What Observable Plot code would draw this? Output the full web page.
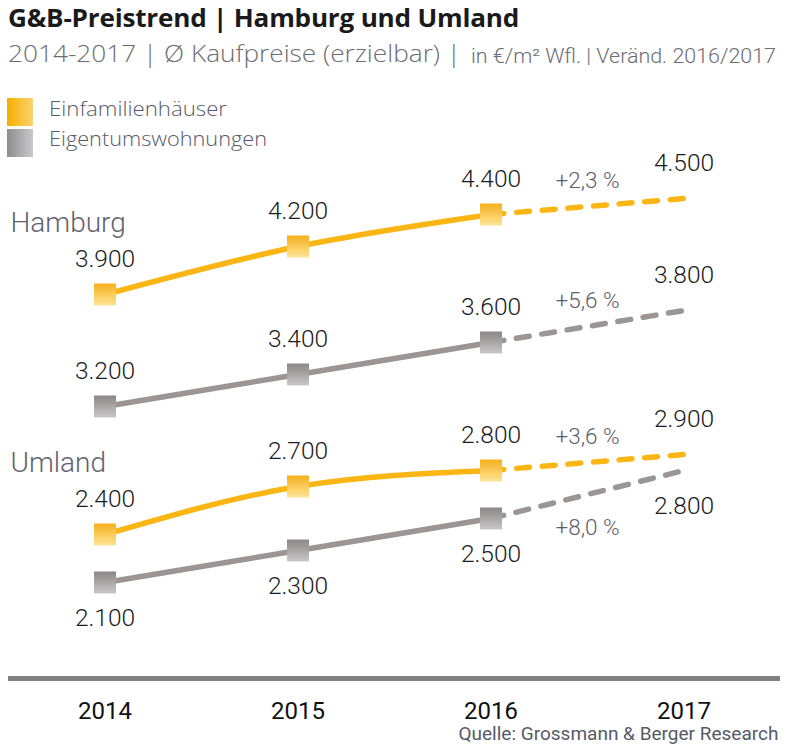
<!DOCTYPE html>
<html>
<head>
<meta charset="utf-8">
<script src="https://cdn.jsdelivr.net/npm/d3@7"></script>
<script src="https://cdn.jsdelivr.net/npm/@observablehq/plot@0.6"></script>
<style>
  body { margin: 0; background: #fff; }
  #wrap { position: relative; width: 790px; height: 754px; overflow: hidden; font-family: Roboto, "Noto Sans", sans-serif; }
  .t { position: absolute; white-space: nowrap; line-height: 1; }
  .sw { position: absolute; left: 7px; width: 26px; height: 28px; }
  .os { font-family: "Open Sans", Roboto, sans-serif; }
</style>
</head>
<body>
<div id="wrap">
  <div class="t os" id="title" style="left:8px;top:5px;font-size:25px;font-weight:700;color:#1a1a1a;letter-spacing:-0.2px;">G&amp;B-Preistrend | Hamburg und Umland</div>
  <div class="t os" id="sub1" style="left:8px;top:42px;font-size:23.5px;font-weight:300;color:#6c6d72;">2014-2017 | Ø Kaufpreise (erzielbar) |</div>
  <div class="t" id="sub2" style="left:471px;top:46px;font-size:20px;font-weight:300;color:#6c6d72;">in €/m² Wfl. | Veränd. 2016/2017</div>
  <div class="sw" style="top:98px;background:linear-gradient(to right,#f6ae00,#fbd370);"></div>
  <div class="sw" style="top:129px;background:linear-gradient(to right,#8d8c91,#c9c9c9);"></div>
  <div class="t os" id="leg1" style="left:49px;top:98px;font-size:21px;font-weight:300;color:#555a68;"></div>
  <div class="t os" id="leg2" style="left:49px;top:128px;font-size:21px;font-weight:300;color:#555a68;"></div>
  <div id="chart" style="position:absolute;left:0;top:150px;"></div>
  <div class="t" id="caption" style="right:12px;top:725px;font-size:18.5px;color:#555a66;">Quelle: Grossmann &amp; Berger Research</div>
</div>
<script>
const years = [2014, 2015, 2016, 2017];
const xTicks = [2014, 2015, 2016, 2017];
const regions = ["Hamburg", "Umland"];
const types = ["Einfamilienhäuser", "Eigentumswohnungen"];
const hamburgHaeuser = [3900, 4200, 4400, 4500];
const hamburgWohnungen = [3200, 3400, 3600, 3800];
const umlandHaeuser = [2400, 2700, 2800, 2900];
const umlandWohnungen = [2100, 2300, 2500, 2800];
const changeLabels = ["+2,3 %", "+5,6 %", "+3,6 %", "+8,0 %"];
const yDomain = [1500, 4800];

document.getElementById("leg1").textContent = types[0];
document.getElementById("leg2").textContent = types[1];

const ORANGE = "#fbb615";
const GREY = "#9c9596";

const series = [
  {region: regions[0], type: types[0], values: hamburgHaeuser, change: changeLabels[0]},
  {region: regions[0], type: types[1], values: hamburgWohnungen, change: changeLabels[1]},
  {region: regions[1], type: types[0], values: umlandHaeuser, change: changeLabels[2]},
  {region: regions[1], type: types[1], values: umlandWohnungen, change: changeLabels[3]}
];
series.forEach(s => s.below = s.region === regions[1] && s.type === types[1]);

const rows = series.flatMap((s, si) => years.map((yr, i) => ({
  series: si, region: s.region, type: s.type, year: yr, value: s.values[i], below: s.below
})));
const solid = rows.filter(d => d.year <= years[2]);
const dashed = rows.filter(d => d.year >= years[2]);
const changes = series.map(s => ({
  year: (years[2] + years[3]) / 2,
  value: (s.values[2] + s.values[3]) / 2,
  label: s.change, below: s.below
}));
const regionLabels = series.filter(s => s.type === types[0]).map(s => ({region: s.region, value: s.values[0]}));

const de = d3.formatLocale({decimal: ",", thousands: ".", grouping: [3], currency: ["", " €"]});
const fmt = de.format(",");

const side = 22;
const r = side / Math.sqrt(Math.PI);

const plot = Plot.plot({
  width: 790,
  height: 578,
  marginTop: 0,
  marginBottom: 50,
  marginLeft: 8,
  marginRight: 10,
  style: {fontFamily: "Roboto, 'Noto Sans', sans-serif", color: "#111", background: "transparent", overflow: "visible"},
  x: {domain: [2013.5, 2017.5], axis: null},
  y: {domain: yDomain, axis: null},
  color: {domain: types, range: [ORANGE, GREY]},
  marks: [
    Plot.ruleY([yDomain[0]], {stroke: "#808080", strokeWidth: 5}),
    Plot.axisX({ticks: xTicks, tickSize: 0, tickPadding: 23, tickFormat: d => String(d), fontSize: 24, label: null, fill: "#111"}),
    Plot.line(solid, {x: "year", y: "value", z: "series", stroke: "type", strokeWidth: 5.5, curve: "natural"}),
    Plot.line(dashed, {x: "year", y: "value", z: "series", stroke: "type", strokeWidth: 5.5, strokeDasharray: "13,12.7", strokeLinecap: "round"}),
    Plot.dot(solid.filter(d => d.type === types[0]), {x: "year", y: "value", symbol: "square", r, fill: "url(#gradO)", stroke: "none"}),
    Plot.dot(solid.filter(d => d.type === types[1]), {x: "year", y: "value", symbol: "square", r, fill: "url(#gradG)", stroke: "none"}),
    Plot.text(rows.filter(d => !d.below), {x: "year", y: "value", text: d => fmt(d.value), dy: -35, fontSize: 24.5, fontWeight: 300, fill: "#1b1b22"}),
    Plot.text(rows.filter(d => d.below), {x: "year", y: "value", text: d => fmt(d.value), dy: 36, fontSize: 24.5, fontWeight: 300, fill: "#1b1b22"}),
    Plot.text(changes.filter(d => !d.below), {x: "year", y: "value", text: "label", dy: -26, fontSize: 22.5, fontWeight: 300, fill: "#5b6070"}),
    Plot.text(changes.filter(d => d.below), {x: "year", y: "value", text: "label", dy: 33, fontSize: 22.5, fontWeight: 300, fill: "#5b6070"}),
    Plot.text(regionLabels, {y: "value", text: "region", frameAnchor: "left", textAnchor: "start", dx: 2, dy: -71, fontSize: 28, fontWeight: 300, fill: "#62636d"})
  ]
});

const defs = d3.create("svg:defs");
const gO = defs.append("linearGradient").attr("id", "gradO").attr("x1", 0).attr("y1", 0).attr("x2", 0).attr("y2", 1);
gO.append("stop").attr("offset", "0%").attr("stop-color", "#f7b01c");
gO.append("stop").attr("offset", "100%").attr("stop-color", "#fce597");
const gG = defs.append("linearGradient").attr("id", "gradG").attr("x1", 0).attr("y1", 0).attr("x2", 0).attr("y2", 1);
gG.append("stop").attr("offset", "0%").attr("stop-color", "#8c8687");
gG.append("stop").attr("offset", "100%").attr("stop-color", "#c8c8c8");
plot.insertBefore(defs.node(), plot.firstChild);

document.getElementById("chart").appendChild(plot);

// stretch/squeeze header texts horizontally to the reference widths
function fit(id, target, origin) {
  const el = document.getElementById(id);
  const w = el.getBoundingClientRect().width;
  el.style.transformOrigin = origin || "left center";
  el.style.transform = "scaleX(" + (target / w) + ")";
}
fit("title", 511);
fit("sub1", 453);
fit("sub2", 305);
fit("leg1", 178);
fit("leg2", 218);
fit("caption", 320, "right center");
</script>
</body>
</html>
